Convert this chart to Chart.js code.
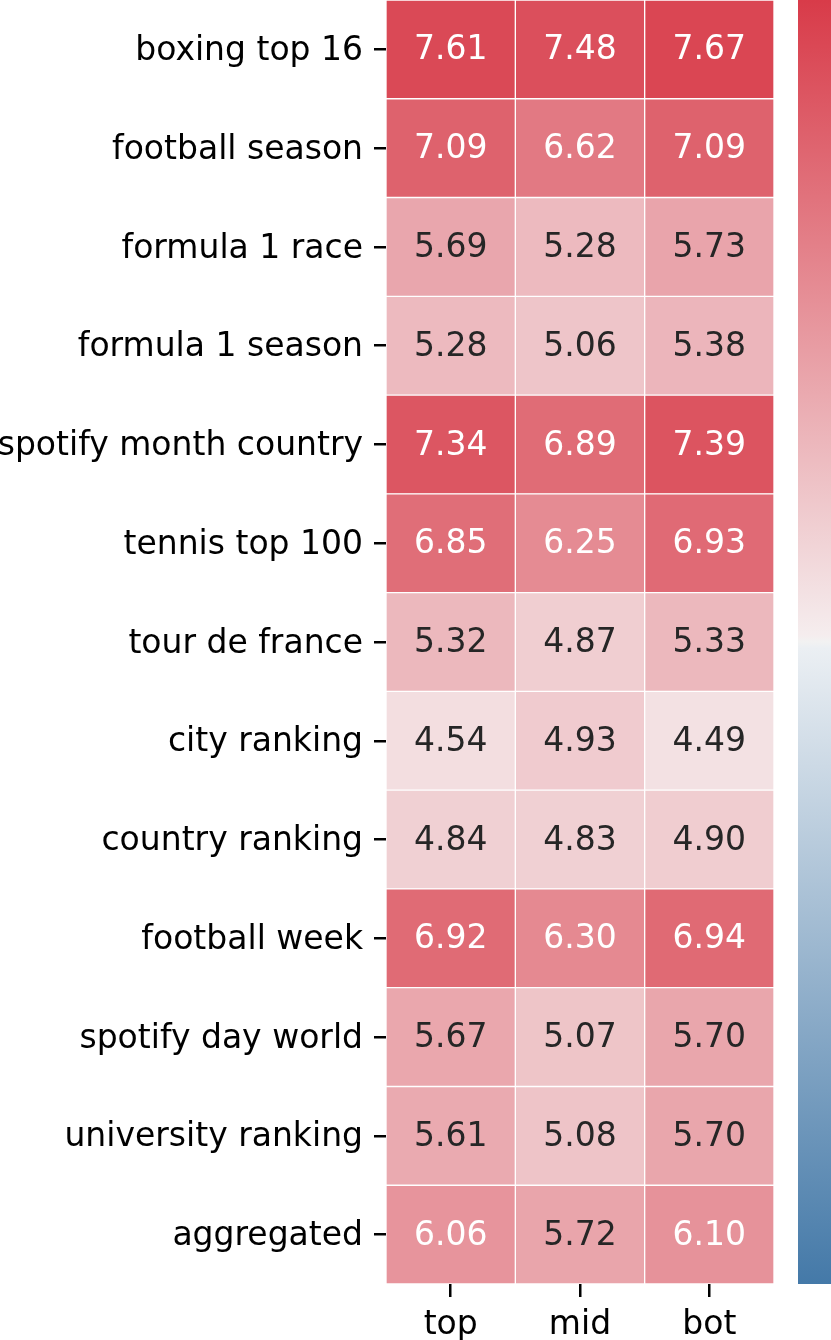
<!DOCTYPE html>
<html>
<head>
<meta charset="utf-8">
<script src="https://cdn.jsdelivr.net/npm/chart.js@4.4.1/dist/chart.umd.min.js"></script>
<style>
  html, body { margin: 0; padding: 0; background: #fff; }
  canvas { display: block; }
</style>
</head>
<body>
<canvas id="heatmap" width="831" height="1340"></canvas>
<script>
const rowLabels = [
  'boxing top 16', 'football season', 'formula 1 race', 'formula 1 season',
  'spotify month country', 'tennis top 100', 'tour de france', 'city ranking',
  'country ranking', 'football week', 'spotify day world', 'university ranking',
  'aggregated'
]
const colLabels = ['top', 'mid', 'bot']
const topVals = [7.61, 7.09, 5.69, 5.28, 7.34, 6.85, 5.32, 4.54, 4.84, 6.92, 5.67, 5.61, 6.06]
const midVals = [7.48, 6.62, 5.28, 5.06, 6.89, 6.25, 4.87, 4.93, 4.83, 6.30, 5.07, 5.08, 5.72]
const botVals = [7.67, 7.09, 5.73, 5.38, 7.39, 6.93, 5.33, 4.49, 4.90, 6.94, 5.70, 5.70, 6.10]

// colour scale (diverging blue -> light grey -> red), centred
const vCenter = 4.2
const vRange = 3.7

const cmapStops = [
  [0, [68, 121, 168]],
  [0.495, [235, 239, 243]],
  [0.5, [242, 242, 242]],
  [0.505, [245, 237, 238]],
  [1, [216, 59, 73]]
]

function cmapRgb(t) {
  t = Math.max(0, Math.min(1, t))
  for (let i = 1; i < cmapStops.length; i++) {
    const [t1, c1] = cmapStops[i]
    const [t0, c0] = cmapStops[i - 1]
    if (t <= t1) {
      const f = (t - t0) / (t1 - t0)
      return c0.map((c, k) => Math.round(c + (c1[k] - c) * f))
    }
  }
  return cmapStops[cmapStops.length - 1][1]
}

function valueRgb(v) {
  return cmapRgb((v - (vCenter - vRange)) / (2 * vRange))
}

function toCss(rgb) {
  return `rgb(${rgb[0]},${rgb[1]},${rgb[2]})`
}

// same rule seaborn uses to pick annotation colour
function luminance(rgb) {
  const lin = rgb.map(c => {
    c = c / 255
    return c <= 0.03928 ? c / 12.92 : Math.pow((c + 0.055) / 1.055, 2.4)
  })
  return 0.2126 * lin[0] + 0.7152 * lin[1] + 0.0722 * lin[2]
}

const columns = [topVals, midVals, botVals]

const datasets = columns.map((vals, j) => ({
  label: colLabels[j],
  data: vals.map(() => [j, j + 1]),
  values: vals,
  backgroundColor: vals.map(v => toCss(valueRgb(v))),
  borderColor: '#ffffff',
  borderWidth: 1,
  borderSkipped: false,
  barPercentage: 1,
  categoryPercentage: 1,
  grouped: false
}))

const annotatePlugin = {
  id: 'annotate',
  afterDatasetsDraw(chart) {
    const ctx = chart.ctx
    ctx.save()
    ctx.font = '33px "DejaVu Sans"'
    ctx.textAlign = 'center'
    ctx.textBaseline = 'middle'
    chart.data.datasets.forEach((ds, j) => {
      const meta = chart.getDatasetMeta(j)
      meta.data.forEach((bar, i) => {
        const p = bar.getProps(['x', 'y', 'base'], true)
        const v = ds.values[i]
        ctx.fillStyle = luminance(valueRgb(v)) > 0.408 ? '#262626' : '#ffffff'
        ctx.fillText(v.toFixed(2), (p.x + p.base) / 2, p.y + 1.5)
      })
    })
    ctx.restore()
  }
}

const colorbarPlugin = {
  id: 'colorbar',
  afterDraw(chart) {
    const ctx = chart.ctx
    const area = chart.chartArea
    const x0 = area.right + 24
    const w = chart.width - x0
    const grad = ctx.createLinearGradient(0, area.bottom, 0, area.top)
    cmapStops.forEach(([t, c]) => grad.addColorStop(t, toCss(c)))
    ctx.save()
    ctx.fillStyle = grad
    ctx.fillRect(x0, area.top, w, area.bottom - area.top)
    ctx.restore()
  }
}

const tickFont = { family: 'DejaVu Sans', size: 33 }

new Chart(document.getElementById('heatmap'), {
  type: 'bar',
  data: {
    labels: rowLabels,
    datasets: datasets
  },
  options: {
    indexAxis: 'y',
    responsive: false,
    animation: false,
    layout: { padding: { top: 0, right: 57, left: 0, bottom: 0 } },
    plugins: {
      legend: { display: false },
      tooltip: { enabled: false }
    },
    scales: {
      x: {
        type: 'linear',
        min: 0,
        max: 3,
        afterBuildTicks(scale) {
          scale.ticks = colLabels.map((c, i) => ({ value: i + 0.5 }))
        },
        afterFit(scale) {
          scale.height = 56
          scale.paddingLeft = 0
          scale.paddingRight = 0
        },
        ticks: {
          callback: (v, i) => colLabels[i],
          color: '#000',
          font: tickFont,
          padding: 9,
          maxRotation: 0,
          autoSkip: false
        },
        grid: {
          drawOnChartArea: false,
          drawTicks: true,
          tickLength: 13,
          color: '#000',
          lineWidth: 2.5
        },
        border: { display: false }
      },
      y: {
        type: 'category',
        offset: true,
        afterFit(scale) {
          scale.width = 386
          scale.paddingTop = 0
          scale.paddingBottom = 0
        },
        ticks: {
          color: '#000',
          font: tickFont,
          padding: 11,
          labelOffset: 2,
          autoSkip: false
        },
        grid: {
          offset: false,
          drawOnChartArea: false,
          drawTicks: true,
          tickLength: 12,
          color: '#000',
          lineWidth: 2.5
        },
        border: { display: false }
      }
    }
  },
  plugins: [annotatePlugin, colorbarPlugin]
})
</script>
</body>
</html>
